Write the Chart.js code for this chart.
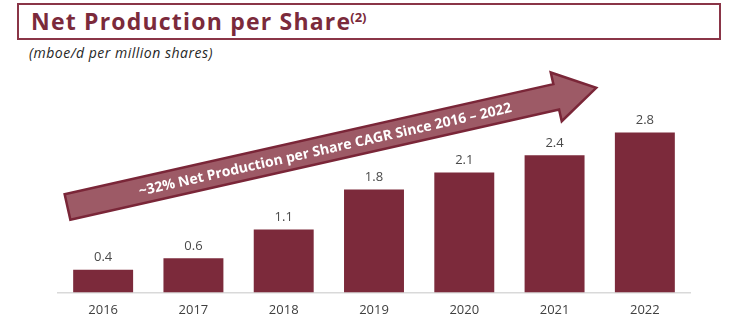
<!DOCTYPE html>
<html>
<head>
<meta charset="utf-8">
<title>Net Production per Share</title>
<script src="https://cdn.jsdelivr.net/npm/chart.js@4/dist/chart.umd.min.js"></script>
<style>
  html, body { margin:0; padding:0; background:#fff; }
  body { width:732px; height:321px; position:relative; overflow:hidden; font-family:'Open Sans', sans-serif; }
  .title-box {
    position:absolute; left:17px; top:3px; width:700px; height:33px;
    border:2px solid #8a3547;
  }
  .title {
    position:absolute; left:12px; top:1px; margin:0;
    font-size:23px; font-weight:700; color:#7b2a3b; line-height:30px;
    letter-spacing:1.2px; white-space:nowrap;
  }
  .title sup { font-size:13px; position:relative; top:5px; vertical-align:top; line-height:13px; letter-spacing:0; margin-left:-1px; }
  .subtitle {
    position:absolute; left:29px; top:44px;
    font-size:14px; font-style:italic; color:#262626; line-height:18px; letter-spacing:0.5px;
  }
  #wrap { position:absolute; left:0; top:0; width:732px; height:321px; }
</style>
</head>
<body>
<div class="title-box"><h1 class="title">Net Production per Share<sup>(2)</sup></h1></div>
<div class="subtitle">(mboe/d per million shares)</div>
<div id="wrap"><canvas id="chart"></canvas></div>

<script>
// Net production per share, mboe/d per million shares
const YEARS  = ['2016', '2017', '2018', '2019', '2020', '2021', '2022'];
const VALUES = [0.4, 0.6, 1.1, 1.8, 2.1, 2.4, 2.8];
const Y_MAX  = 3.0;
const CAGR_TEXT = '~32% Net Production per Share CAGR Since 2016 \u2013 2022';

const MAROON = '#7c2a3b';

// value labels above each bar
const barLabels = {
  id: 'barLabels',
  afterDatasetsDraw(chart) {
    const ctx = chart.ctx;
    const meta = chart.getDatasetMeta(0);
    ctx.save();
    ctx.font = '13px "Open Sans", sans-serif';
    ctx.fillStyle = '#4a4a4a';
    ctx.textAlign = 'center';
    ctx.textBaseline = 'alphabetic';
    meta.data.forEach((bar, i) => {
      ctx.fillText(VALUES[i].toFixed(1), bar.x, bar.y - 8.5);
    });
    ctx.restore();
  }
};

// big rising arrow with the CAGR callout
const cagrArrow = {
  id: 'cagrArrow',
  afterDraw(chart) {
    const ctx = chart.ctx;
    const shaft = 501, head = 41, half = 13, barb = 25;
    ctx.save();
    ctx.translate(67.5, 207);
    ctx.rotate(Math.atan2(-110, 488));
    ctx.beginPath();
    ctx.moveTo(0, -half);
    ctx.lineTo(shaft, -half);
    ctx.lineTo(shaft, -barb);
    ctx.lineTo(shaft + head, 0);
    ctx.lineTo(shaft, barb);
    ctx.lineTo(shaft, half);
    ctx.lineTo(0, half);
    ctx.closePath();
    ctx.fillStyle = '#9d5a66';
    ctx.fill();
    ctx.lineWidth = 2.5;
    ctx.lineJoin = 'miter';
    ctx.strokeStyle = '#7a2638';
    ctx.stroke();
    ctx.font = 'bold 14px "Open Sans", sans-serif';
    ctx.fillStyle = '#ffffff';
    ctx.textAlign = 'center';
    ctx.textBaseline = 'middle';
    ctx.fillText(CAGR_TEXT, 264, 1);
    ctx.restore();
  }
};

new Chart(document.getElementById('chart'), {
  type: 'bar',
  data: {
    labels: YEARS,
    datasets: [{
      data: VALUES,
      backgroundColor: MAROON,
      borderWidth: 0,
      categoryPercentage: 1.0,
      barPercentage: 0.664
    }]
  },
  options: {
    responsive: true,
    maintainAspectRatio: false,
    animation: false,
    layout: { padding: { left: 58, right: 42, top: 121, bottom: 3 } },
    plugins: { legend: { display: false }, tooltip: { enabled: false } },
    scales: {
      x: {
        grid: { display: false, drawTicks: false },
        border: { display: true, color: '#d9d9d9', width: 1.5 },
        ticks: { color: '#404040', font: { size: 13, family: '"Open Sans", sans-serif' }, padding: 10 },
        afterFit(scale) { scale.height = 25.5; }
      },
      y: {
        display: false,
        min: 0,
        max: Y_MAX
      }
    }
  },
  plugins: [barLabels, cagrArrow]
});
</script>
</body>
</html>
